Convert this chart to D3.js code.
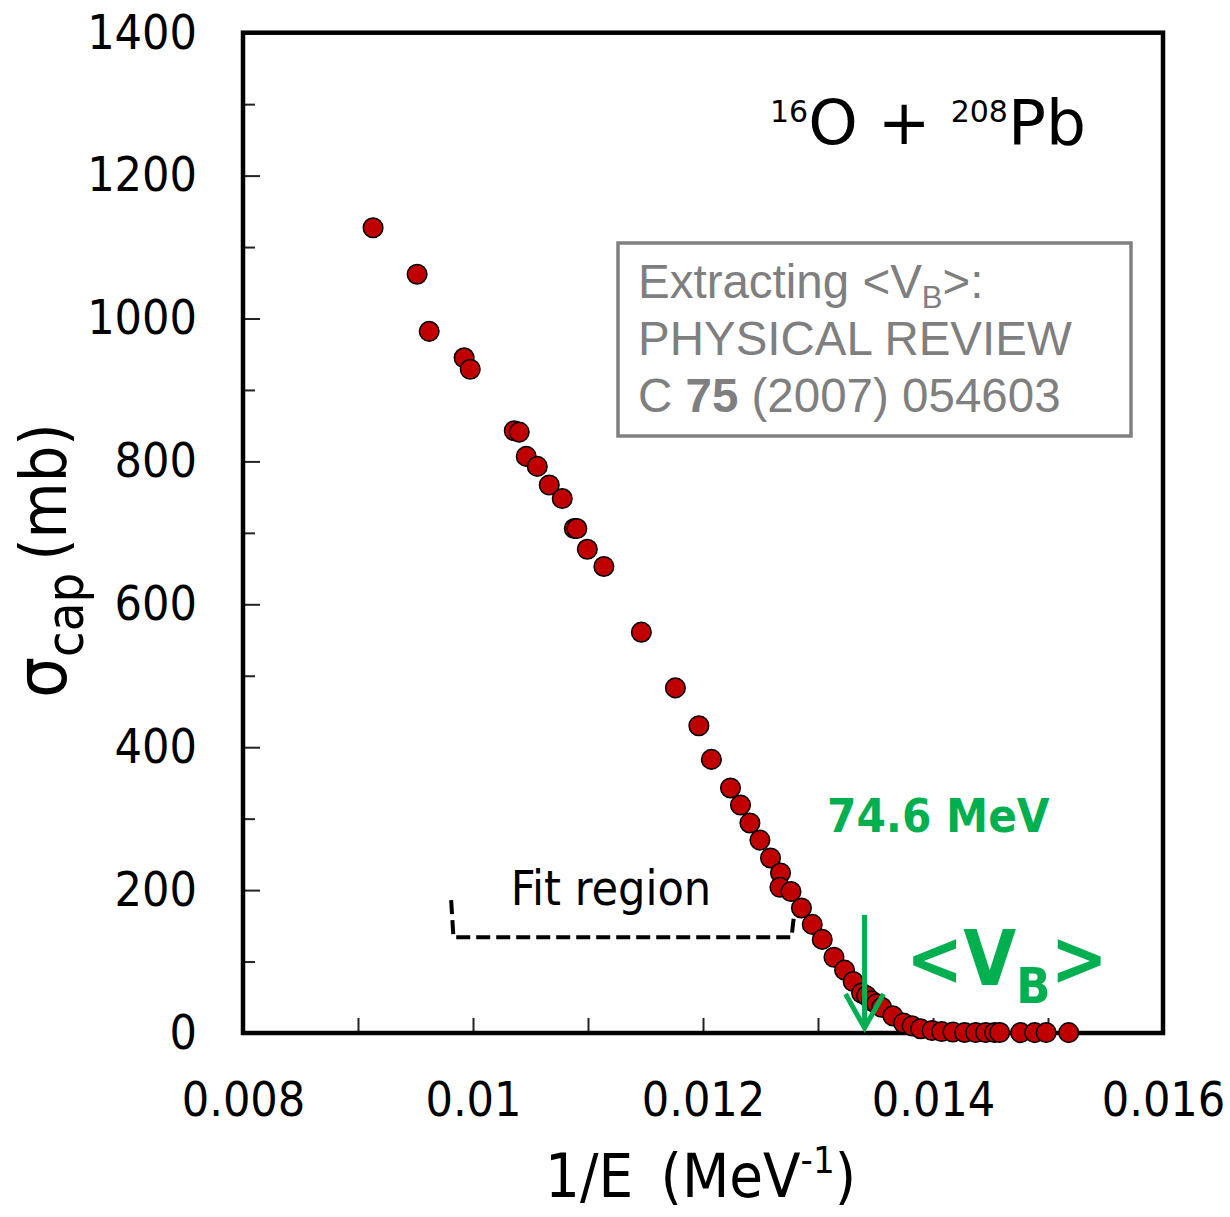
<!DOCTYPE html>
<html><head><meta charset="utf-8">
<script src="https://cdn.jsdelivr.net/npm/d3@7/dist/d3.min.js"></script>
<style>body{margin:0;background:#fff}</style>
</head><body>
<svg id="chart" width="1230" height="1217"></svg>
<script>
// ---- data ----
const invE = [0.009131,0.009514,0.009619,0.009923,0.009976,0.010359,0.010402,0.010463,0.010559,0.010663,
  0.010776,0.010881,0.010903,0.010994,0.011138,0.011464,0.011760,0.011964,0.012073,0.012239,
  0.012326,0.012408,0.012495,0.012587,0.012674,0.012669,0.012765,0.012856,0.012950,0.013037,
  0.013139,0.013231,0.013306,0.013379,0.013422,0.013466,0.013509,0.013553,0.013651,0.013744,
  0.013818,0.013892,0.013992,0.014075,0.014173,0.014275,0.014371,0.014458,0.014536,0.014580,
  0.014762,0.014884,0.014984,0.015180];
const sigma = [1127,1062,982,945,929,843,841,807,793,767,
  748,706,706,677,653,561,483,430,383,343,
  319,294,270,245,224,204,198,175,152,131,
  106,88,72,56,52,45,41,36,24,14,
  10,6,3.5,2,1.4,0.8,0.7,0.7,0.7,0.7,
  0.5,0.5,0.6,0.5];
const xTicks = [0.008,0.009,0.010,0.011,0.012,0.013,0.014,0.015,0.016];
const xTickLabels = ["0.008","","0.01","","0.012","","0.014","","0.016"];
const yMajor = [0,200,400,600,800,1000,1200,1400];
const yMinor = [100,300,500,700,900,1100,1300];
const barrierMeV = 74.6;
const fitRegion = [[0.00981,186],[0.00983,134],[0.01277,134],[0.01281,192]];

// ---- layout ----
const F = "'DejaVu Sans Condensed','DejaVu Sans',sans-serif";
const FW = "'DejaVu Sans',sans-serif";
const svg = d3.select("#chart");
const x = d3.scaleLinear().domain([0.008,0.016]).range([243,1163]);
const y = d3.scaleLinear().domain([0,1400]).range([1033,32.7]);

// minor y ticks
svg.append("g").attr("transform",`translate(${x(0.008)},0)`)
  .call(d3.axisLeft(y).tickValues(yMinor).tickSize(-12).tickFormat(""))
  .call(g=>g.select(".domain").remove())
  .call(g=>g.selectAll("line").attr("stroke","#222").attr("stroke-width",2));
// major y ticks
svg.append("g").attr("transform",`translate(${x(0.008)},0)`)
  .call(d3.axisLeft(y).tickValues(yMajor).tickSize(-17).tickPadding(46).tickFormat(d=>String(d)))
  .call(g=>g.select(".domain").remove())
  .call(g=>g.selectAll("line").attr("stroke","#222").attr("stroke-width",2))
  .call(g=>g.selectAll("text").attr("font-family",F).attr("font-size",48).attr("fill","#000"));
// x ticks
svg.append("g").attr("transform",`translate(0,${y(0)})`)
  .call(d3.axisBottom(x).tickValues(xTicks).tickSize(-15).tickPadding(49).tickFormat((d,i)=>xTickLabels[i]))
  .call(g=>g.select(".domain").remove())
  .call(g=>g.selectAll("line").attr("stroke","#222").attr("stroke-width",2))
  .call(g=>g.selectAll("text").attr("font-family",F).attr("font-size",48).attr("fill","#000"));

// frame
svg.append("rect").attr("x",x(0.008)).attr("y",y(1400)).attr("width",x(0.016)-x(0.008))
  .attr("height",y(0)-y(1400)).attr("fill","none").attr("stroke","#000").attr("stroke-width",4.5);

// axis titles
const yl = svg.append("text").attr("transform","translate(66,698) rotate(-90)")
  .attr("font-family",F).attr("fill","#000");
yl.append("tspan").attr("font-size",72).text("σ");
yl.append("tspan").attr("font-size",52).attr("dy",17).text("cap");
yl.append("tspan").attr("font-size",64).attr("dy",-17).attr("dx",12).text("(mb)");

const xl = svg.append("text").attr("x",545).attr("y",1197).attr("font-family",F).attr("fill","#000").attr("font-size",61);
xl.append("tspan").text("1/E\u2002(MeV");
xl.append("tspan").attr("font-size",38).attr("dy",-24).text("-1");
xl.append("tspan").attr("dy",24).text(")");

// title
const tt = svg.append("text").attr("x",770).attr("y",144).attr("font-family",FW).attr("fill","#000").attr("font-size",63);
tt.append("tspan").attr("font-size",30).attr("dy",-22).text("16");
tt.append("tspan").attr("dy",22).text("O + ");
tt.append("tspan").attr("font-size",30).attr("dy",-22).text("208");
tt.append("tspan").attr("dy",22).text("Pb");

// reference box
svg.append("rect").attr("x",618).attr("y",243).attr("width",513).attr("height",193)
  .attr("fill","none").attr("stroke","#808080").attr("stroke-width",3.5);
const BF = "'Liberation Sans',Arial,sans-serif";
const BS = 47.5;
const b1 = svg.append("text").attr("x",638).attr("y",298).attr("font-family",BF).attr("font-size",BS).attr("fill","#7f7f7f");
b1.append("tspan").text("Extracting <V");
b1.append("tspan").attr("font-size",31).attr("dy",10).text("B");
b1.append("tspan").attr("dy",-10).text(">:");
svg.append("text").attr("x",638).attr("y",355).attr("font-family",BF).attr("font-size",BS).attr("fill","#7f7f7f").text("PHYSICAL REVIEW");
const b3 = svg.append("text").attr("x",638).attr("y",412).attr("font-family",BF).attr("font-size",BS).attr("fill","#7f7f7f");
b3.append("tspan").text("C ");
b3.append("tspan").attr("font-weight","bold").text("75");
b3.append("tspan").text(" (2007) 054603");

// fit region bracket
svg.append("path").attr("d",d3.line().x(d=>x(d[0])).y(d=>y(d[1]))(fitRegion))
  .attr("fill","none").attr("stroke","#000").attr("stroke-width",4)
  .attr("stroke-dasharray","14,6").attr("stroke-linejoin","round");
svg.append("text").attr("x",611).attr("y",905).attr("text-anchor","middle")
  .attr("font-family",F).attr("font-size",48).attr("fill","#000").text("Fit region");

// data points
svg.append("g").selectAll("circle").data(invE.map((v,i)=>[v,sigma[i]])).join("circle")
  .attr("cx",d=>x(d[0])).attr("cy",d=>y(d[1])).attr("r",9.8)
  .attr("fill","#c00000").attr("stroke","#000").attr("stroke-width",1.5);

// barrier arrow + labels
const G = "#00b050";
const ax = x(1/barrierMeV);
svg.append("line").attr("x1",ax).attr("x2",ax).attr("y1",915).attr("y2",1024)
  .attr("stroke",G).attr("stroke-width",5);
svg.append("path").attr("d",`M${ax-19},994 L${ax},1028 L${ax+19},994`)
  .attr("fill","none").attr("stroke",G).attr("stroke-width",5);
svg.append("text").attr("x",827).attr("y",832).attr("font-family",F).attr("font-weight","bold")
  .attr("font-size",47).attr("fill",G).text(barrierMeV.toFixed(1)+" MeV");
const vb = svg.append("text").attr("x",906).attr("y",985).attr("font-family",F).attr("font-weight","bold")
  .attr("font-size",76).attr("fill",G);
vb.append("tspan").text("<V");
vb.append("tspan").attr("font-size",50).attr("dy",18).text("B");
vb.append("tspan").attr("dy",-18).text(">");
</script>
</body></html>
